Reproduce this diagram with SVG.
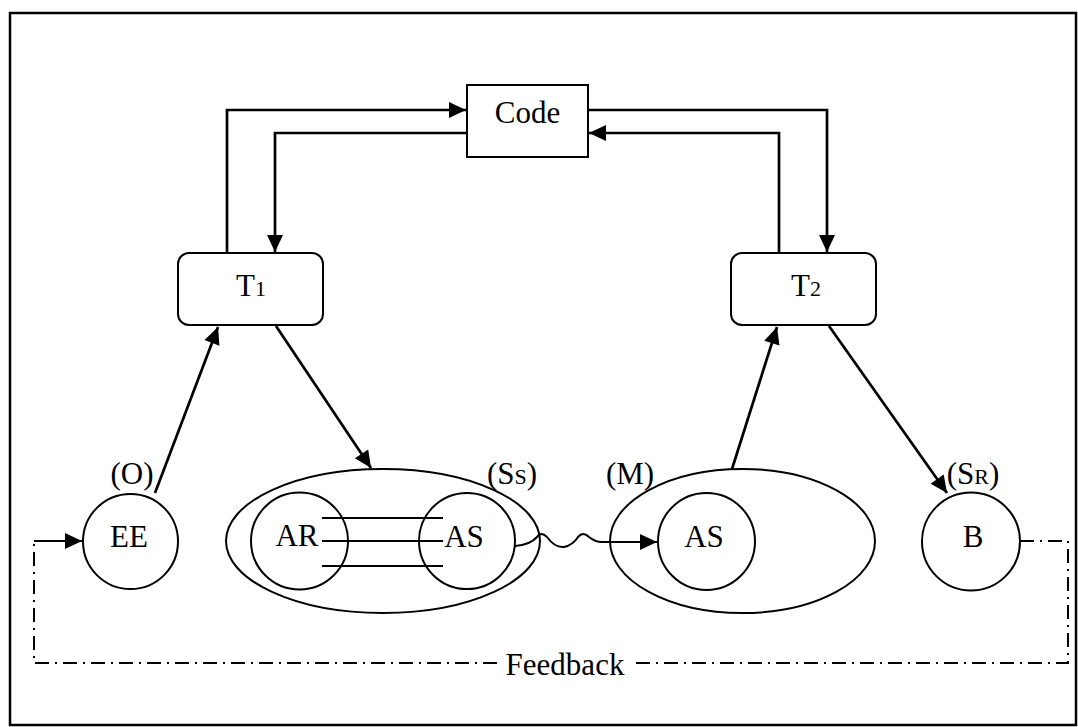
<svg xmlns="http://www.w3.org/2000/svg" width="1078" height="727" viewBox="0 0 1078 727">
  <style>
    .txt { font-family: "Liberation Serif", "Times New Roman", serif; font-size: 31px; fill: #000; text-anchor: middle; }
    .sub { font-size: 22px; }
    .shape { fill: #fff; stroke: #000; stroke-width: 2; }
    .conn { fill: none; stroke: #000; stroke-width: 2.7; }
    .thin { fill: none; stroke: #000; stroke-width: 2; }
    .fb { fill: none; stroke: #000; stroke-width: 2; stroke-dasharray: 14 6 2 6; }
  </style>
  <defs>
    <marker id="arrow" markerUnits="userSpaceOnUse" markerWidth="18" markerHeight="16" refX="17" refY="8" orient="auto" overflow="visible">
      <path d="M0,0 L17,8 L0,16 z" fill="#000"/>
    </marker>
  </defs>

  <rect x="10" y="13" width="1066" height="712" fill="#fff" stroke="#000" stroke-width="2.5"/>

  <g id="code">
    <rect class="shape" x="467" y="85" width="121" height="72"/>
    <text class="txt" x="527.5" y="123">Code</text>
  </g>

  <g id="t1">
    <rect class="shape" x="178" y="253" width="145" height="72" rx="11"/>
    <text class="txt" x="251" y="296">T<tspan class="sub">1</tspan></text>
  </g>

  <g id="t2">
    <rect class="shape" x="731" y="253" width="145" height="72" rx="11"/>
    <text class="txt" x="806" y="296">T<tspan class="sub">2</tspan></text>
  </g>

  <g id="ee">
    <circle class="shape" cx="130.5" cy="541.5" r="47.5"/>
    <text class="txt" x="129" y="547">EE</text>
    <text class="txt" x="132" y="484">(O)</text>
  </g>

  <g id="ss">
    <ellipse class="shape" cx="383" cy="541" rx="157" ry="72"/>
    <circle class="shape" cx="299.5" cy="541" r="48.5"/>
    <circle class="shape" cx="467" cy="541" r="48"/>
    <line class="thin" x1="322" y1="518" x2="443" y2="518"/>
    <line class="thin" x1="322" y1="541" x2="443" y2="541"/>
    <line class="thin" x1="322" y1="566" x2="443" y2="566"/>
    <text class="txt" x="297" y="546">AR</text>
    <text class="txt" x="464" y="547">AS</text>
    <text class="txt" x="512" y="484">(S<tspan class="sub">S</tspan>)</text>
  </g>

  <g id="m">
    <ellipse class="shape" cx="742.5" cy="541" rx="132.5" ry="72"/>
    <circle class="shape" cx="706.5" cy="541.5" r="48.5"/>
    <text class="txt" x="704" y="547">AS</text>
    <text class="txt" x="630" y="484">(M)</text>
  </g>

  <g id="b">
    <circle class="shape" cx="971" cy="541.5" r="49"/>
    <text class="txt" x="973" y="547">B</text>
    <text class="txt" x="973" y="484">(S<tspan class="sub">R</tspan>)</text>
  </g>

  <g id="connectors">
    <!-- T1 <-> Code -->
    <polyline class="conn" points="227,253 227,110 466,110" marker-end="url(#arrow)"/>
    <polyline class="conn" points="467,133 275,133 275,252" marker-end="url(#arrow)"/>
    <!-- Code <-> T2 -->
    <polyline class="conn" points="588,110 827,110 827,252" marker-end="url(#arrow)"/>
    <polyline class="conn" points="779,253 779,133 589,133" marker-end="url(#arrow)"/>
    <!-- lower arrows -->
    <line class="conn" x1="155" y1="493" x2="218" y2="327" marker-end="url(#arrow)"/>
    <line class="conn" x1="276" y1="326" x2="371" y2="468" marker-end="url(#arrow)"/>
    <line class="conn" x1="732" y1="469" x2="777" y2="327" marker-end="url(#arrow)"/>
    <line class="conn" x1="829" y1="326" x2="947" y2="493" marker-end="url(#arrow)"/>
    <!-- wavy link from AS (Ss) to AS (M) -->
    <path class="thin" d="M515,546 Q530,545 537,537 Q541,531 547,537 Q555,548 564,547 Q573,545 578,537 Q583,531 589,537 Q595,542 602,542 L657,542" marker-end="url(#arrow)"/>
    <!-- feedback loop -->
    <polyline class="fb" points="1020,541 1068,541 1068,663 634,663"/>
    <polyline class="fb" points="497,663 34,663 34,541"/>
    <line class="thin" x1="34" y1="541" x2="82" y2="541" marker-end="url(#arrow)"/>
  </g>

  <g id="feedback">
    <text class="txt" x="565" y="675">Feedback</text>
  </g>
</svg>
